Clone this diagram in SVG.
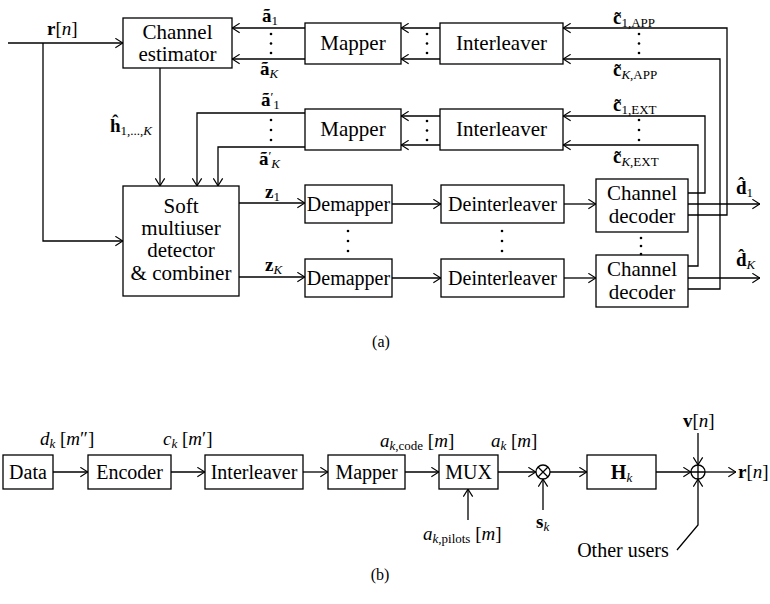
<svg xmlns="http://www.w3.org/2000/svg" width="770" height="604" viewBox="0 0 770 604">
<defs>
<marker id="ah" viewBox="0 0 10 12" refX="9.5" refY="6" markerWidth="9" markerHeight="11" markerUnits="userSpaceOnUse" orient="auto">
<path d="M1,0.8 L9.3,6 L1,11.2" fill="none" stroke="#000" stroke-width="1.3"/>
</marker>
<style>
.box{fill:#fff;stroke:#000;stroke-width:1.3}
.ln{fill:none;stroke:#000;stroke-width:1.3}
.arr{marker-end:url(#ah)}
text{font-family:"Liberation Serif","DejaVu Serif",serif;fill:#000}
.t{font-size:21px;text-anchor:middle}
.t2{font-size:20px;text-anchor:middle}
.tb{font-size:20px;text-anchor:middle}
.m{font-size:19px}
.b{font-weight:bold}
.i{font-style:italic}
.s{font-size:13px}
.cap{font-size:16px;text-anchor:middle}
.dot{fill:#000}
</style>
</defs>
<rect width="770" height="604" fill="#fff"/>

<!-- Part (a) nodes -->
<g id="chan-est"><rect class="box" x="123" y="18" width="109" height="50"/><text class="t" x="177.5" y="39">Channel</text><text class="t" x="177.5" y="61">estimator</text></g>
<g id="mapper1"><rect class="box" x="305" y="23" width="96" height="41"/><text class="t" x="353" y="50">Mapper</text></g>
<g id="interleaver1"><rect class="box" x="440" y="23" width="123" height="41"/><text class="t" x="501.5" y="50">Interleaver</text></g>
<g id="mapper2"><rect class="box" x="305" y="109" width="96" height="41"/><text class="t" x="353" y="136">Mapper</text></g>
<g id="interleaver2"><rect class="box" x="440" y="109" width="123" height="41"/><text class="t" x="501.5" y="136">Interleaver</text></g>
<g id="soft-mud"><rect class="box" x="123" y="186" width="116" height="110"/><text class="t" x="181" y="213">Soft</text><text class="t" x="181" y="235">multiuser</text><text class="t" x="181" y="257">detector</text><text class="t" x="181" y="280">&amp; combiner</text></g>
<g id="demapper1"><rect class="box" x="305" y="185" width="87" height="38"/><text class="t2" x="348.5" y="211">Demapper</text></g>
<g id="demapperK"><rect class="box" x="305" y="259" width="87" height="38"/><text class="t2" x="348.5" y="285">Demapper</text></g>
<g id="deinterleaver1"><rect class="box" x="441" y="185" width="123" height="38"/><text class="t2" x="502.5" y="211">Deinterleaver</text></g>
<g id="deinterleaverK"><rect class="box" x="441" y="259" width="123" height="38"/><text class="t2" x="502.5" y="285">Deinterleaver</text></g>
<g id="decoder1"><rect class="box" x="596" y="179" width="92" height="53"/><text class="t" x="642" y="200">Channel</text><text class="t" x="642" y="223">decoder</text></g>
<g id="decoderK"><rect class="box" x="596" y="255" width="92" height="52"/><text class="t" x="642" y="276">Channel</text><text class="t" x="642" y="299">decoder</text></g>

<!-- Part (a) connectors -->
<g id="connectors-a">
<path class="ln arr" d="M8,43 H123"/>
<path class="ln arr" d="M43,43 V241 H123"/>
<path class="ln arr" d="M160,68 V186"/>
<path class="ln arr" d="M305,113 H197 V186"/>
<path class="ln arr" d="M305,147 H218 V186"/>
<path class="ln arr" d="M305,28 H232"/>
<path class="ln arr" d="M305,59 H232"/>
<path class="ln arr" d="M440,28 H401"/>
<path class="ln arr" d="M440,59 H401"/>
<path class="ln arr" d="M440,116 H401"/>
<path class="ln arr" d="M440,145 H401"/>
<path class="ln arr" d="M239,203 H305"/>
<path class="ln arr" d="M239,277 H305"/>
<path class="ln arr" d="M392,204 H441"/>
<path class="ln arr" d="M392,278 H441"/>
<path class="ln arr" d="M564,204 H596"/>
<path class="ln arr" d="M564,278 H596"/>
<path class="ln arr" d="M688,193 H705 V116 H563"/>
<path class="ln arr" d="M688,204 H760"/>
<path class="ln arr" d="M688,215 H727 V28 H563"/>
<path class="ln arr" d="M688,266 H698 V145 H563"/>
<path class="ln arr" d="M688,278 H760"/>
<path class="ln arr" d="M688,289 H720 V59 H563"/>
<circle class="dot" cx="271" cy="34" r="1.3"/><circle class="dot" cx="271" cy="43.5" r="1.3"/><circle class="dot" cx="271" cy="53" r="1.3"/>
<circle class="dot" cx="427" cy="34" r="1.3"/><circle class="dot" cx="427" cy="43.5" r="1.3"/><circle class="dot" cx="427" cy="53" r="1.3"/>
<circle class="dot" cx="639" cy="34" r="1.3"/><circle class="dot" cx="639" cy="43.5" r="1.3"/><circle class="dot" cx="639" cy="53" r="1.3"/>
<circle class="dot" cx="271" cy="120" r="1.3"/><circle class="dot" cx="271" cy="130" r="1.3"/><circle class="dot" cx="271" cy="140" r="1.3"/>
<circle class="dot" cx="427" cy="121" r="1.3"/><circle class="dot" cx="427" cy="130.5" r="1.3"/><circle class="dot" cx="427" cy="140" r="1.3"/>
<circle class="dot" cx="639" cy="120" r="1.3"/><circle class="dot" cx="639" cy="130" r="1.3"/><circle class="dot" cx="639" cy="140" r="1.3"/>
<circle class="dot" cx="348" cy="231" r="1.3"/><circle class="dot" cx="348" cy="241" r="1.3"/><circle class="dot" cx="348" cy="251" r="1.3"/>
<circle class="dot" cx="502" cy="231" r="1.3"/><circle class="dot" cx="502" cy="241" r="1.3"/><circle class="dot" cx="502" cy="251" r="1.3"/>
<circle class="dot" cx="641" cy="238" r="1.3"/><circle class="dot" cx="641" cy="246" r="1.3"/><circle class="dot" cx="641" cy="254" r="1.3"/>
</g>

<!-- Part (a) labels -->
<g id="labels-a">
<text class="m" x="47" y="35"><tspan class="b">r</tspan>[<tspan class="i">n</tspan>]</text>
<text class="m" x="110" y="132"><tspan class="b">h&#770;</tspan><tspan class="s" dy="3">1,...,</tspan><tspan class="s i">K</tspan></text>
<text class="m" x="262" y="22"><tspan class="b">ã</tspan><tspan class="s" dy="3">1</tspan></text>
<text class="m" x="260" y="75"><tspan class="b">ã</tspan><tspan class="s i" dy="3">K</tspan></text>
<text class="m" x="261" y="106"><tspan class="b">ã</tspan><tspan class="s" dy="-5">′</tspan><tspan class="s" dy="8">1</tspan></text>
<text class="m" x="259" y="165"><tspan class="b">ã</tspan><tspan class="s" dy="-5">′</tspan><tspan class="s i" dy="8">K</tspan></text>
<text class="m" x="613" y="24"><tspan class="b">c&#771;</tspan><tspan class="s" dy="3">1,APP</tspan></text>
<text class="m" x="613" y="76"><tspan class="b">c&#771;</tspan><tspan class="s" dy="3"><tspan class="i">K</tspan>,APP</tspan></text>
<text class="m" x="613" y="111"><tspan class="b">c&#771;</tspan><tspan class="s" dy="3">1,EXT</tspan></text>
<text class="m" x="613" y="163"><tspan class="b">c&#771;</tspan><tspan class="s" dy="3"><tspan class="i">K</tspan>,EXT</tspan></text>
<text class="m" x="265" y="198"><tspan class="b">z</tspan><tspan class="s" dy="3">1</tspan></text>
<text class="m" x="265" y="271"><tspan class="b">z</tspan><tspan class="s i" dy="3">K</tspan></text>
<text class="m" x="736" y="194"><tspan class="b">d&#770;</tspan><tspan class="s" dy="3">1</tspan></text>
<text class="m" x="736" y="266"><tspan class="b">d&#770;</tspan><tspan class="s i" dy="3">K</tspan></text>
<text class="cap" x="381" y="347">(a)</text>
</g>

<!-- Part (b) nodes -->
<g id="data"><rect class="box" x="3" y="455" width="50" height="34"/><text class="tb" x="28" y="479">Data</text></g>
<g id="encoder"><rect class="box" x="88" y="455" width="83" height="34"/><text class="tb" x="129.5" y="479">Encoder</text></g>
<g id="interleaver-b"><rect class="box" x="205" y="455" width="98" height="34"/><text class="tb" x="254" y="479">Interleaver</text></g>
<g id="mapper-b"><rect class="box" x="328" y="455" width="77" height="34"/><text class="tb" x="366.5" y="479">Mapper</text></g>
<g id="mux"><rect class="box" x="439" y="455" width="59" height="34"/><text class="tb" x="468.5" y="479">MUX</text></g>
<g id="mult"><circle class="ln" cx="543" cy="472" r="7"/><path class="ln" d="M538,467 L548,477 M548,467 L538,477"/></g>
<g id="hk"><rect class="box" x="587" y="455" width="69" height="34"/><text class="tb" x="621.5" y="479"><tspan class="b">H</tspan><tspan class="s i" dy="3">k</tspan></text></g>
<g id="sum"><circle class="ln" cx="698" cy="472" r="7"/><path class="ln" d="M691,472 H705 M698,465 V479"/></g>

<!-- Part (b) connectors -->
<g id="connectors-b">
<path class="ln arr" d="M53,472 H88"/>
<path class="ln arr" d="M171,472 H205"/>
<path class="ln arr" d="M303,472 H328"/>
<path class="ln arr" d="M405,472 H439"/>
<path class="ln arr" d="M498,472 H536"/>
<path class="ln arr" d="M550,472 H587"/>
<path class="ln arr" d="M656,472 H691"/>
<path class="ln arr" d="M705,472 H736"/>
<path class="ln arr" d="M468,520 V489"/>
<path class="ln arr" d="M543,510 V479"/>
<path class="ln arr" d="M698,433 V465"/>
<path class="ln arr" d="M677,550 L698,525 V479"/>
</g>

<!-- Part (b) labels -->
<g id="labels-b">
<text class="m" x="40" y="445"><tspan class="i">d</tspan><tspan class="s i" dy="3">k</tspan><tspan dy="-3"> [</tspan><tspan class="i">m</tspan>″]</text>
<text class="m" x="163" y="445"><tspan class="i">c</tspan><tspan class="s i" dy="3">k</tspan><tspan dy="-3"> [</tspan><tspan class="i">m</tspan>′]</text>
<text class="m" x="380" y="447"><tspan class="i">a</tspan><tspan class="s" dy="3"><tspan class="i">k</tspan>,code</tspan><tspan dy="-3"> [</tspan><tspan class="i">m</tspan>]</text>
<text class="m" x="491" y="447"><tspan class="i">a</tspan><tspan class="s i" dy="3">k</tspan><tspan dy="-3"> [</tspan><tspan class="i">m</tspan>]</text>
<text class="m" x="423" y="540"><tspan class="i">a</tspan><tspan class="s" dy="3"><tspan class="i">k</tspan>,pilots</tspan><tspan dy="-3"> [</tspan><tspan class="i">m</tspan>]</text>
<text class="m" x="536" y="528"><tspan class="b">s</tspan><tspan class="s i" dy="3">k</tspan></text>
<text class="m" x="683" y="427"><tspan class="b">v</tspan>[<tspan class="i">n</tspan>]</text>
<text class="m" x="738" y="478" font-size="18"><tspan class="b">r</tspan>[<tspan class="i">n</tspan>]</text>
<text class="tb" x="623" y="557">Other users</text>
<text class="cap" x="380" y="580">(b)</text>
</g>
</svg>
